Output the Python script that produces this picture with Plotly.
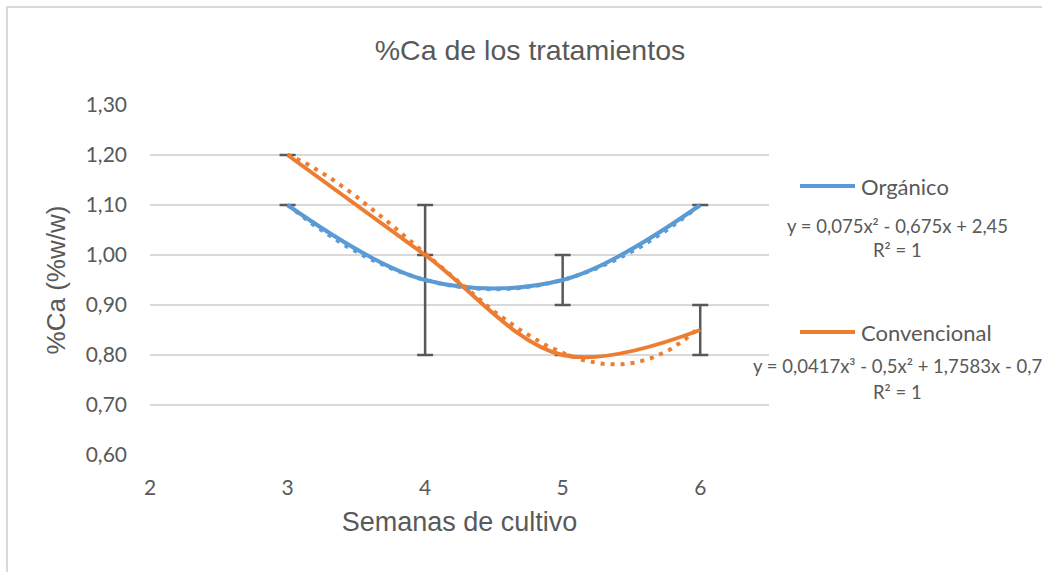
import numpy as np
import plotly.graph_objects as go

# Weeks of cultivation and measured %Ca per treatment
semanas = [3, 4, 5, 6]
organico = [1.10, 0.95, 0.95, 1.10]
convencional = [1.20, 1.00, 0.80, 0.85]

# Error bar half-lengths
err_organico = [0.0, 0.15, 0.05, 0.0]
err_convencional = [0.0, 0.0, 0.0, 0.05]

# Polynomial trendline coefficients (highest power first)
coef_organico = [0.075, -0.675, 2.45]
coef_convencional = [0.0417, -0.5, 1.7583, -0.7]

eq_organico = "y = 0,075x² - 0,675x + 2,45"
eq_convencional = "y = 0,0417x³ - 0,5x² + 1,7583x - 0,7"
r2_text = "R² = 1"

y_ticks = [0.6, 0.7, 0.8, 0.9, 1.0, 1.1, 1.2, 1.3]
x_ticks = [2, 3, 4, 5, 6]

AZUL = "#5B9BD5"
NARANJA = "#ED7D31"
TEXTO = "#595959"
REJILLA = "#D9D9D9"
BARRA = "#595959"

W, H = 1042, 572
L, R, T, B = 150, 273, 105, 117

fig = go.Figure()

# Error bars sit beneath the series lines
for ys, err in ((organico, err_organico), (convencional, err_convencional)):
    fig.add_trace(go.Scatter(
        x=semanas, y=ys, mode="markers",
        marker=dict(size=1, opacity=0),
        error_y=dict(type="data", array=err, visible=True,
                     color=BARRA, thickness=2.5, width=8),
        showlegend=False, hoverinfo="skip",
    ))

# Smoothed series lines
for ys, color, name in ((organico, AZUL, "Orgánico"),
                        (convencional, NARANJA, "Convencional")):
    fig.add_trace(go.Scatter(
        x=semanas, y=ys, mode="lines", name=name,
        line=dict(color=color, width=4, shape="spline", smoothing=1),
        showlegend=False,
    ))

# Dotted polynomial trendlines drawn over the series
xs = np.linspace(3, 6, 200)
for coef, color in ((coef_organico, AZUL), (coef_convencional, NARANJA)):
    fig.add_trace(go.Scatter(
        x=xs, y=np.polyval(coef, xs), mode="lines",
        line=dict(color=color, width=4, dash="4px,6px"),
        showlegend=False, hoverinfo="skip",
    ))

def px_x(p):
    return (p - L) / (W - L - R)

def px_y(p):
    return (H - B - p) / (H - T - B)

# Legend entries with their trendline equations
legend_items = [
    ("Orgánico", AZUL, 186, eq_organico, 226, 250),
    ("Convencional", NARANJA, 332, eq_convencional, 366, 392),
]
shapes = []
annotations = []
for name, color, ly, eq, ey, ry in legend_items:
    shapes.append(dict(type="line", xref="paper", yref="paper",
                       x0=px_x(800), x1=px_x(855), y0=px_y(ly), y1=px_y(ly),
                       line=dict(color=color, width=4)))
    annotations.append(dict(text=name, xref="paper", yref="paper",
                            x=px_x(859), y=px_y(ly), xanchor="left", yanchor="middle",
                            showarrow=False, font=dict(family="Lato", size=22, color=TEXTO)))
    annotations.append(dict(text=eq, xref="paper", yref="paper",
                            x=px_x(897), y=px_y(ey), xanchor="center", yanchor="middle",
                            showarrow=False, font=dict(family="Lato", size=18.5, color=TEXTO)))
    annotations.append(dict(text=r2_text, xref="paper", yref="paper",
                            x=px_x(897), y=px_y(ry), xanchor="center", yanchor="middle",
                            showarrow=False, font=dict(family="Lato", size=18.5, color=TEXTO)))

# Chart area border (left and top edges)
shapes.append(dict(type="line", xref="paper", yref="paper",
                   x0=px_x(7), x1=px_x(7), y0=px_y(7), y1=px_y(600),
                   line=dict(color=REJILLA, width=2)))
shapes.append(dict(type="line", xref="paper", yref="paper",
                   x0=px_x(6), x1=px_x(1100), y0=px_y(7), y1=px_y(7),
                   line=dict(color=REJILLA, width=2)))

fig.update_layout(
    width=W, height=H,
    margin=dict(l=L, r=R, t=T, b=B, pad=0),
    paper_bgcolor="white", plot_bgcolor="white",
    separators=",.",
    title=dict(text="%Ca de los tratamientos", xref="container", yref="container",
               x=530 / W, y=1 - 50 / H, xanchor="center", yanchor="middle",
               font=dict(family="Liberation Sans", size=28.5, color=TEXTO)),
    xaxis=dict(range=[2, 6.5], tickvals=x_ticks, showgrid=False, zeroline=False,
               showline=False, ticks="", ticklabelstandoff=18,
               tickfont=dict(family="Lato", size=21, color=TEXTO),
               title=dict(text="Semanas de cultivo", standoff=14,
                          font=dict(family="Liberation Sans", size=27, color=TEXTO))),
    yaxis=dict(range=[0.6, 1.3], tickvals=y_ticks, tickformat=".2f",
               showgrid=True, gridcolor=REJILLA, gridwidth=2, zeroline=False,
               showline=False, ticks="", ticklabelstandoff=22,
               tickfont=dict(family="Lato", size=21, color=TEXTO),
               title=dict(text="%Ca (%w/w)", standoff=12,
                          font=dict(family="Liberation Sans", size=26, color=TEXTO))),
    shapes=shapes,
    annotations=annotations,
)

fig.write_html("out.html")
